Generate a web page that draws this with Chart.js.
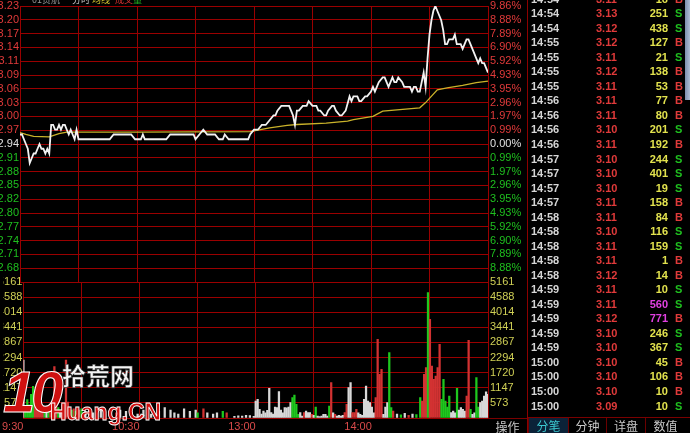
<!DOCTYPE html>
<html>
<head>
<meta charset="utf-8">
<script src="https://cdn.jsdelivr.net/npm/chart.js@4/dist/chart.umd.min.js"></script>
<style>
  html, body { margin: 0; padding: 0; background: #000; overflow: hidden; }
  #wrap { position: relative; width: 690px; height: 433px; background: #000; font-family: "Liberation Sans", Arial, sans-serif; overflow: hidden; }
  canvas { position: absolute; left: 0; }
  #pc { top: -4px; }
  #vc { top: 272px; }
  .abs { position: absolute; white-space: nowrap; }
  #side { position: absolute; left: 527px; top: 0; width: 163px; height: 433px; border-left: 1px solid #8c0000; box-sizing: border-box; }
  .row { position: absolute; left: 0; width: 160px; height: 14px; line-height: 14px; font-weight: bold; font-size: 11px; }
  .row span { position: absolute; top: 0; }
  .tab { position: absolute; top: 418px; height: 15px; line-height: 15px; font-size: 12px; text-align: center; color: #c8c8c8; font-family: "Noto Sans CJK SC", sans-serif; border-left: 1px solid #6a0000; box-sizing: border-box; }
  .logo { position: absolute; font-weight: bold; white-space: nowrap; }
</style>
</head>
<body>
<div id="wrap">
  <canvas id="pc" width="527" height="296"></canvas>
  <canvas id="vc" width="527" height="161"></canvas>
  <div id="head"></div>
  <div id="side"></div>
  <div id="mark"></div>
</div>
<script>
// ---- price data (minutes after 9:30, trading minutes only) ----
const prevClose = 2.94;
const priceTimes = [0, 1, 3, 4, 5, 6, 7, 8, 9, 10, 11, 12, 13, 14, 15, 16, 17, 18, 19, 20, 21, 22, 23, 24, 25, 26, 27, 28, 29, 30,
  46, 48, 57, 59, 62, 63, 64, 75, 77, 89, 90, 92, 94, 96, 100, 102, 104, 105, 107, 117, 118, 120, 122, 124, 126, 128, 130, 131, 132,
  134, 138, 139, 140, 141, 142, 143, 145, 147, 148, 150, 152, 153, 154, 156, 157, 158, 160, 161, 162, 164, 165, 167, 169, 170,
  171, 173, 174, 175, 177, 178, 180, 181, 182, 183, 184, 186, 187, 188, 189, 190, 191, 192, 193, 194, 196, 197, 200, 201, 202,
  203, 204, 205, 206, 207, 208, 209, 210, 211, 212, 213, 214, 215, 216, 217, 218, 219, 220, 221, 222, 223, 224, 225, 226, 227,
  228, 229, 230, 231, 232, 233, 234, 235, 236, 237, 238, 239, 240];
const priceValues = [2.96, 2.96, 2.94, 2.93, 2.90, 2.91, 2.92, 2.92, 2.93, 2.94, 2.93, 2.93, 2.92, 2.93, 2.92, 2.98, 2.98, 2.97, 2.97, 2.98,
  2.97, 2.98, 2.98, 2.97, 2.96, 2.97, 2.96, 2.95, 2.97, 2.95,
  2.95, 2.96, 2.96, 2.95, 2.95, 2.96, 2.95, 2.95, 2.96, 2.96, 2.95, 2.96, 2.97, 2.96, 2.96, 2.95, 2.95, 2.96, 2.95, 2.95, 2.96,
  2.97, 2.97, 2.98, 2.98, 2.99, 3.00, 3.00, 3.01,
  3.02, 3.02, 3.01, 3.00, 2.98, 3.01, 3.01, 3.02, 3.02, 3.03, 3.02, 3.02, 3.01, 3.01, 3.00, 3.00, 3.01, 3.02, 3.02, 3.01, 3.00,
  3.00, 3.01, 3.04, 3.03,
  3.04, 3.04, 3.03, 3.03, 3.04, 3.04, 3.05, 3.06, 3.05, 3.06, 3.07, 3.08, 3.08, 3.07, 3.06, 3.07, 3.08, 3.07, 3.07, 3.08, 3.07,
  3.06, 3.06, 3.05, 3.06,
  3.06, 3.05, 3.05, 3.07, 3.09, 3.06, 3.12, 3.17, 3.20, 3.22, 3.23, 3.22, 3.21, 3.20, 3.18, 3.15, 3.15, 3.16, 3.16, 3.16, 3.17,
  3.15, 3.15, 3.15, 3.14,
  3.15, 3.16, 3.16, 3.15, 3.14, 3.13, 3.12, 3.11, 3.12, 3.11, 3.11, 3.10, 3.09];

const avgTimes = [0, 3, 7, 15, 20, 24, 60, 118, 128, 137, 142, 157, 168, 171, 181, 186, 205, 208, 214, 219, 227, 234, 240];
const avgValues = [2.964, 2.960, 2.956, 2.955, 2.962, 2.965, 2.965, 2.966, 2.974, 2.979, 2.981, 2.984, 2.988, 2.991, 2.998, 3.009,
  3.016, 3.027, 3.054, 3.058, 3.063, 3.069, 3.072];

// ---- volume per minute (r = up, g = down, w = flat) ----
const volTimes = [0, 1, 2, 3, 4, 5, 6, 7, 8, 9, 10, 11, 12, 13, 14, 15, 16, 17, 18, 19, 20, 21, 22, 23, 24, 25, 26, 27, 28, 29, 30,
  32, 34, 36, 38, 40, 42, 45, 48, 50, 53, 56, 59, 62, 64, 66, 70, 73, 76, 78, 80, 83, 86, 89, 90, 93, 95, 98, 100, 103, 105,
  109, 111, 113, 115, 117, 119,
  120, 121, 122, 123, 124, 125, 126, 127, 128, 129, 130, 131, 132, 133, 134, 135, 136, 137, 138, 139, 140, 141, 142, 143, 144,
  145, 146, 147, 148, 149, 150, 151, 152, 153, 154, 155, 156, 157, 158, 159, 160, 161, 162, 163, 164, 165, 166, 167, 168, 169,
  170, 171, 172, 173, 174, 175, 176, 177, 178, 179, 180, 181, 182, 183, 184, 185, 186, 187, 188, 189, 190, 191, 193, 195, 197,
  199, 201, 203, 205, 206, 207, 208, 209, 210, 211, 212, 213, 214, 215, 216, 217, 218, 219, 220, 221, 222, 223, 224, 225, 226,
  227, 228, 229, 230, 231, 232, 233, 234, 235, 236, 237, 238, 239, 240];
const volValues = [2200, 400, 700, 500, 900, 1200, 600, 400, 350, 500, 450, 300, 250, 300, 350, 300, 1950, 800, 400, 300, 500, 400,
  2200, 600, 400, 300, 350, 250, 400, 300, 350,
  250, 300, 200, 250, 300, 200, 250, 200, 300, 250, 200, 150, 300, 200, 150, 250, 400, 300, 200, 150, 350, 250, 300, 200, 350, 200,
  150, 200, 250, 200,
  60, 80, 70, 100, 90, 60,
  645, 708, 328, 150, 265, 200, 290, 1126, 202, 150, 417, 392, 999, 300, 200, 392, 390, 417, 582, 771, 873, 518, 139, 202, 76,
  202, 265, 202, 202, 139, 100, 417, 76, 50, 76, 139, 139, 76, 455, 1341, 200, 139, 76, 100, 76, 100, 202, 518, 1151, 1341,
  202, 202, 328, 200, 139, 100, 708, 1214, 645, 582, 417, 200, 771, 2985, 1657, 1847, 139, 417, 582, 2479, 392, 265, 150, 120, 180,
  100, 150, 130, 771, 645, 1657, 1910, 4755, 3745, 1973, 1467, 1594, 1910, 2796, 708, 1467, 645, 417, 835, 202, 265, 200, 1126, 300, 392,
  328, 265, 835, 2949, 328, 139, 200, 1530, 417, 582, 645, 835, 990, 900];
const volDirs = ['w', 'g', 'g', 'g', 'g', 'g', 'r', 'r', 'r', 'r', 'r', 'g', 'w', 'g', 'r', 'g', 'r', 'r', 'g', 'w', 'r', 'g',
  'r', 'r', 'g', 'g', 'r', 'g', 'g', 'r', 'g',
  'w', 'w', 'w', 'w', 'w', 'w', 'w', 'r', 'w', 'w', 'w', 'w', 'w', 'w', 'w', 'w', 'w', 'w', 'w', 'w', 'w', 'w', 'w', 'g', 'r', 'w',
  'w', 'w', 'g', 'r',
  'w', 'w', 'w', 'w', 'w', 'w',
  'w', 'w', 'w', 'w', 'w', 'w', 'w', 'w', 'w', 'w', 'w', 'w', 'w', 'w', 'w', 'w', 'w', 'w', 'w', 'g', 'g', 'g', 'g', 'w', 'w',
  'r', 'w', 'w', 'w', 'r', 'w', 'g', 'w', 'w', 'w', 'w', 'w', 'w', 'g', 'r', 'w', 'r', 'w', 'w', 'w', 'w', 'r', 'r', 'w', 'w',
  'r', 'r', 'r', 'w', 'w', 'w', 'w', 'w', 'w', 'w', 'w', 'w', 'r', 'r', 'r', 'r', 'w', 'w', 'w', 'g', 'g', 'r', 'w', 'g', 'w',
  'r', 'w', 'g', 'g', 'r', 'r', 'r', 'g', 'r', 'r', 'r', 'r', 'r', 'r', 'g', 'g', 'g', 'g', 'g', 'w', 'w', 'w', 'g', 'w', 'w',
  'w', 'w', 'r', 'r', 'g', 'w', 'w', 'g', 'g', 'w', 'w', 'w', 'w', 'w'];

// ---- axes ----
const gridMinutes = [0, 30, 60, 90, 120, 150, 180, 210, 240];
const timeLabels = { 0: '9:30', 60: '10:30', 120: '13:00', 180: '14:00' };
const priceTickLabels = ['2.65', '2.68', '2.71', '2.74', '2.77', '2.80', '2.82', '2.85', '2.88', '2.91', '2.94',
  '2.97', '3.00', '3.03', '3.06', '3.09', '3.11', '3.14', '3.17', '3.20', '3.23'];
const pctTickLabels = ['9.86%', '8.88%', '7.89%', '6.90%', '5.92%', '4.93%', '3.95%', '2.96%', '1.97%', '0.99%', '0.00%',
  '0.99%', '1.97%', '2.96%', '3.95%', '4.93%', '5.92%', '6.90%', '7.89%', '8.88%', '9.86%'];
const volTickLabels = ['0', '573', '1147', '1720', '2294', '2867', '3441', '4014', '4588', '5161'];
const volMax = 5161;

// ---- trade list (right panel) ----
const tradeTimes = ['14:54', '14:54', '14:54', '14:55', '14:55', '14:55', '14:55', '14:56', '14:56', '14:56', '14:56', '14:57', '14:57',
  '14:57', '14:57', '14:58', '14:58', '14:58', '14:58', '14:58', '14:59', '14:59', '14:59', '14:59', '14:59', '15:00', '15:00', '15:00', '15:00'];
const tradePrices = ['3.11', '3.13', '3.12', '3.12', '3.11', '3.12', '3.11', '3.11', '3.11', '3.10', '3.11', '3.10', '3.10',
  '3.10', '3.11', '3.11', '3.10', '3.11', '3.11', '3.12', '3.11', '3.11', '3.12', '3.10', '3.10', '3.10', '3.10', '3.10', '3.09'];
const tradeVols = [16, 251, 438, 127, 21, 138, 53, 77, 80, 201, 192, 244, 401, 19, 158, 84, 116, 159, 1, 14, 10, 560, 771, 246, 367, 45, 106, 10, 10];
const tradeSides = ['B', 'S', 'S', 'B', 'S', 'B', 'B', 'B', 'B', 'S', 'B', 'S', 'S', 'S', 'B', 'B', 'S', 'S', 'B', 'B', 'S', 'S', 'B', 'S', 'S', 'B', 'B', 'B', 'S'];

const gridRed = '#9a0000';
const upRed = '#e03a3a';
const downGreen = '#1fbf1f';
const volYellow = '#cfcf55';
const tickFont = { family: 'Liberation Sans', size: 11 };
const step = (3.23 - prevClose) / 10;

function fixedTicks(values) {
  return axis => { axis.ticks = values.map(v => ({ value: v })); };
}

const priceTickValues = priceTickLabels.map((_, i) => prevClose + (i - 10) * step);
const pctTickValues = pctTickLabels.map((_, i) => (i - 10) * 0.986);
const volTickValues = volTickLabels.map((_, i) => i * volMax / 9);

const sideColor = i => (i > 10 ? upRed : i < 10 ? downGreen : '#e0e0e0');

new Chart(document.getElementById('pc'), {
  type: 'line',
  data: {
    datasets: [
      {
        data: priceTimes.map((t, i) => ({ x: t, y: priceValues[i] })),
        borderColor: '#f2f2f2',
        borderWidth: 1.8,
        pointRadius: 0,
        yAxisID: 'yP',
      },
      {
        data: avgTimes.map((t, i) => ({ x: t, y: avgValues[i] })),
        borderColor: '#c9b22a',
        borderWidth: 1.3,
        pointRadius: 0,
        yAxisID: 'yP',
      },
    ],
  },
  options: {
    responsive: false,
    animation: false,
    events: [],
    layout: { padding: { top: 10, bottom: 10 } },
    plugins: { legend: { display: false }, tooltip: { enabled: false } },
    scales: {
      x: {
        type: 'linear', min: 0, max: 240,
        afterBuildTicks: fixedTicks(gridMinutes),
        afterFit: a => { a.height = 0; },
        ticks: { display: false, autoSkip: false },
        grid: { color: gridRed, drawTicks: false },
        border: { display: false },
      },
      yP: {
        position: 'left', min: prevClose - 10 * step, max: 3.23,
        afterBuildTicks: fixedTicks(priceTickValues),
        afterFit: a => { a.width = 20; },
        ticks: {
          font: tickFont, padding: 1, autoSkip: false,
          color: c => sideColor(c.index),
          callback: (v, i) => (i === 0 ? '' : priceTickLabels[i]),
        },
        grid: { color: gridRed, drawTicks: false },
        border: { color: gridRed },
      },
      yR: {
        position: 'right', min: -9.86, max: 9.86,
        afterBuildTicks: fixedTicks(pctTickValues),
        afterFit: a => { a.width = 39; },
        ticks: {
          font: tickFont, padding: 2, autoSkip: false,
          color: c => sideColor(c.index),
          callback: (v, i) => (i === 0 ? '' : pctTickLabels[i]),
        },
        grid: { display: false, drawTicks: false },
        border: { color: gridRed },
      },
    },
  },
});

const dirColor = { r: '#d23232', g: '#1ec81e', w: '#d8d8d8' };

new Chart(document.getElementById('vc'), {
  type: 'bar',
  data: {
    datasets: [{
      data: volTimes.map((t, i) => ({ x: t, y: volValues[i] })),
      backgroundColor: volDirs.map(d => dirColor[d]),
      barThickness: 1.6,
      borderWidth: 0,
      yAxisID: 'yV',
    }],
  },
  options: {
    responsive: false,
    animation: false,
    events: [],
    layout: { padding: { top: 10, bottom: 0 } },
    plugins: { legend: { display: false }, tooltip: { enabled: false } },
    scales: {
      x: {
        type: 'linear', min: 0, max: 240, offset: false,
        afterBuildTicks: fixedTicks(gridMinutes),
        afterFit: a => { a.height = 15; },
        ticks: {
          font: tickFont, color: '#d84a4a', padding: 2, align: 'end',
          maxRotation: 0, autoSkip: false,
          callback: v => timeLabels[v] || '',
        },
        grid: { color: gridRed, drawTicks: false, offset: false },
        border: { color: gridRed },
      },
      yV: {
        position: 'left', min: 0, max: volMax,
        afterBuildTicks: fixedTicks(volTickValues),
        afterFit: a => { a.width = 20; },
        ticks: { font: tickFont, padding: 1, autoSkip: false, color: volYellow, callback: (v, i) => (i === 0 ? '' : volTickLabels[i]) },
        grid: { color: gridRed, drawTicks: false },
        border: { color: gridRed },
      },
      yV2: {
        position: 'right', min: 0, max: volMax,
        afterBuildTicks: fixedTicks(volTickValues),
        afterFit: a => { a.width = 39; },
        ticks: { font: tickFont, padding: 2, autoSkip: false, color: volYellow, callback: (v, i) => (i === 0 ? '' : volTickLabels[i]) },
        grid: { display: false, drawTicks: false },
        border: { color: gridRed },
      },
    },
  },
});

// header strip (cut off at the top edge)
const head = document.getElementById('head');
[['01贵航', 32, '#9a9a9a'], ['分时', 72, '#c8c8c8'], ['均线', 92, '#d8c830'], ['成交', 115, '#d03030'], ['量', 133, '#20b020']]
  .forEach(([txt, x, col]) => {
    const d = document.createElement('div');
    d.className = 'abs';
    d.style.cssText = `left:${x}px;top:-7px;font-size:9px;color:${col};font-family:"Noto Sans CJK SC",sans-serif;`;
    d.textContent = txt;
    head.appendChild(d);
  });

// right panel: tick-by-tick trades
const side = document.getElementById('side');
const rowH = 14.53;
tradeTimes.forEach((t, i) => {
  const row = document.createElement('div');
  row.className = 'row';
  row.style.top = (-1.3 + i * rowH - 7) + 'px';
  const big = tradeVols[i] >= 500;
  row.innerHTML =
    `<span style="left:3px;color:#d6d6d6">${t}</span>` +
    `<span style="left:68px;color:${upRed}">${tradePrices[i]}</span>` +
    `<span style="right:20px;color:${big ? '#e040e0' : '#e2e24e'}">${tradeVols[i]}</span>` +
    `<span style="left:147px;color:${tradeSides[i] === 'B' ? upRed : downGreen}">${tradeSides[i]}</span>`;
  side.appendChild(row);
});

// scrollbar strip at far right
const strip = document.createElement('div');
strip.className = 'abs';
strip.style.cssText = 'left:157px;top:0;width:6px;height:100px;background:linear-gradient(90deg,#7d8fae,#b8c6dc);';
side.appendChild(strip);

// tab bar
const tabLine = document.createElement('div');
tabLine.className = 'abs';
tabLine.style.cssText = 'left:0;top:417px;width:163px;height:1px;background:#7a0000;';
side.appendChild(tabLine);
[['分笔', 0, 40, true], ['分钟', 40, 38, false], ['详盘', 78, 39, false], ['数值', 117, 40, false]].forEach(([txt, x, w, on]) => {
  const d = document.createElement('div');
  d.className = 'tab';
  d.style.left = x + 'px';
  d.style.width = w + 'px';
  if (on) { d.style.background = '#0b2238'; d.style.color = '#3cc8d0'; }
  d.textContent = txt;
  side.appendChild(d);
});

const wrap = document.getElementById('wrap');
const op = document.createElement('div');
op.className = 'abs';
op.style.cssText = 'left:488px;top:418px;width:39px;height:15px;line-height:15px;text-align:center;font-size:12px;color:#c8c8c8;font-family:"Noto Sans CJK SC",sans-serif;border-top:1px solid #7a0000;box-sizing:border-box;';
op.textContent = '操作';
wrap.appendChild(op);

// watermark
const mark = document.getElementById('mark');
mark.innerHTML =
  '<div class="logo" style="left:3px;top:362px;font-size:58px;line-height:60px;color:#d01010;font-style:italic;letter-spacing:-4px;-webkit-text-stroke:1px #ffffff;font-family:\'Liberation Sans\'">10</div>' +
  '<div class="logo" style="left:62px;top:360px;font-size:24px;line-height:30px;color:#f4f4f4;-webkit-text-stroke:0.6px #333;font-family:\'Noto Sans CJK SC\'">拾荒网</div>' +
  '<div class="logo" style="left:50px;top:397px;font-size:23px;line-height:30px;color:#d01010;-webkit-text-stroke:0.8px #ffffff;font-family:\'Liberation Sans\'">Huang.CN</div>';
</script>
</body>
</html>
